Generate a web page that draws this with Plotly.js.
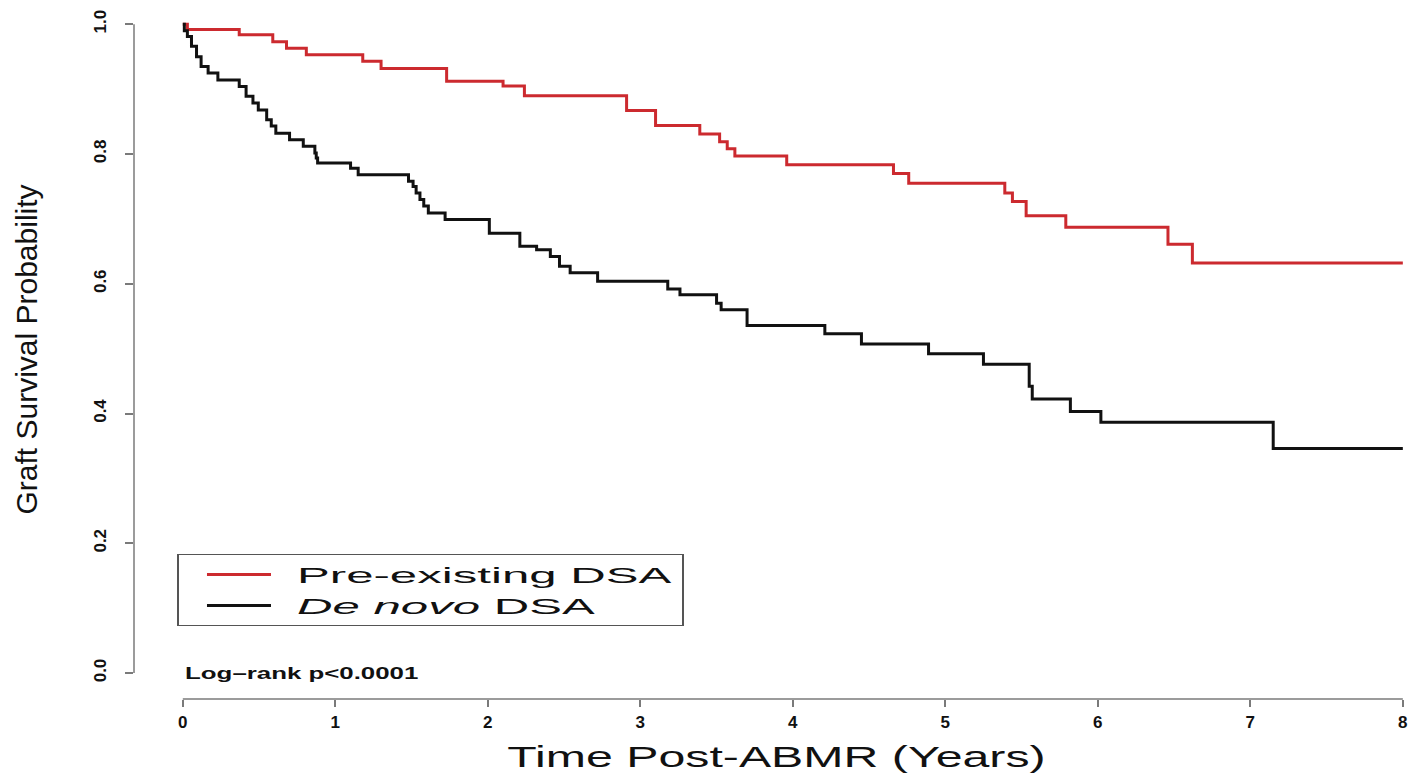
<!DOCTYPE html>
<html>
<head>
<meta charset="utf-8">
<script src="https://cdn.plot.ly/plotly-3.0.1.min.js"></script>
<style>
  html, body { margin: 0; padding: 0; background: #ffffff; }
  #chart { width: 1419px; height: 774px; }
</style>
</head>
<body>
<div id="chart"></div>
<script>
// ---- data ----
const seriesNames = ['Pre-existing DSA', '<i>De novo</i> DSA'];

const preTimes = [0, 0.03, 0.37, 0.59, 0.68, 0.81, 1.18, 1.30, 1.73, 2.10, 2.24, 2.91, 3.10, 3.39,
                  3.52, 3.57, 3.62, 3.96, 4.66, 4.76, 5.39, 5.44, 5.53, 5.79, 6.46, 6.62, 8.0];
const preSurv  = [1.0, 0.992, 0.984, 0.973, 0.963, 0.953, 0.943, 0.932, 0.912, 0.905, 0.890, 0.867, 0.844, 0.831,
                  0.819, 0.808, 0.797, 0.7835, 0.770, 0.755, 0.740, 0.727, 0.705, 0.687, 0.661, 0.632, 0.632];

const deNovoTimes = [0, 0.01, 0.03, 0.057, 0.09, 0.12, 0.166, 0.23, 0.37, 0.415, 0.46, 0.495, 0.55, 0.58, 0.61,
                     0.70, 0.79, 0.866, 0.875, 0.884, 1.10, 1.15, 1.48, 1.51, 1.53, 1.555, 1.58, 1.61, 1.72,
                     2.01, 2.21, 2.32, 2.41, 2.47, 2.54, 2.72, 3.18, 3.26, 3.50, 3.53, 3.70, 4.21, 4.45, 4.89,
                     5.25, 5.55, 5.57, 5.82, 6.02, 7.15, 8.0];
const deNovoSurv  = [1.0, 0.99, 0.981, 0.966, 0.950, 0.935, 0.925, 0.914, 0.904, 0.889, 0.8785, 0.868, 0.853, 0.843, 0.832,
                     0.822, 0.812, 0.8015, 0.794, 0.786, 0.778, 0.768, 0.758, 0.750, 0.740, 0.730, 0.720, 0.709, 0.699,
                     0.678, 0.658, 0.6525, 0.642, 0.627, 0.617, 0.604, 0.592, 0.583, 0.570, 0.560, 0.5355, 0.523, 0.507, 0.492,
                     0.476, 0.442, 0.4225, 0.403, 0.3865, 0.346, 0.346];

const xTickVals = [0, 1, 2, 3, 4, 5, 6, 7, 8];
const yTickVals = [0, 0.2, 0.4, 0.6, 0.8, 1.0];
const xTitle = 'Time Post-ABMR (Years)';
const yTitle = 'Graft Survival Probability';
const pValueText = 'Log–rank p<0.0001';

// ---- styling ----
const FONT = 'Liberation Sans, Arial, Helvetica, sans-serif';
const RED = '#cc2a2f';
const BLACK = '#111111';
const AXIS_GREY = '#7a7a7a';

const traces = [
  { x: preTimes, y: preSurv, name: seriesNames[0], type: 'scatter', mode: 'lines',
    line: { shape: 'hv', color: RED, width: 3 } },
  { x: deNovoTimes, y: deNovoSurv, name: seriesNames[1], type: 'scatter', mode: 'lines',
    line: { shape: 'hv', color: BLACK, width: 3 } }
];

const layout = {
  width: 1419, height: 774,
  margin: { l: 134, r: 0, t: 0, b: 75, pad: 0 },
  paper_bgcolor: '#ffffff', plot_bgcolor: '#ffffff',
  showlegend: true,
  legend: {
    x: 0.0332, y: 0.2074, xanchor: 'left', yanchor: 'top',
    bgcolor: 'rgba(0,0,0,0)', bordercolor: '#555555', borderwidth: 1.5,
    font: { family: FONT, size: 28, color: '#111111' },
    itemwidth: 57, traceorder: 'normal'
  },
  xaxis: {
    range: [-0.32, 8.106], tickvals: xTickVals, ticks: 'outside', ticklen: 7, tickwidth: 1.5,
    tickcolor: AXIS_GREY, showline: false, showgrid: false, zeroline: false, automargin: false,
    tickfont: { family: FONT, size: 17, color: '#111111', weight: 'bold' }, ticklabelstandoff: 1,
    title: { text: xTitle, font: { family: FONT, size: 30, color: '#111111' }, standoff: 14 },
    fixedrange: true
  },
  yaxis: {
    range: [-0.04, 1.0374], tickvals: yTickVals, tickformat: '.1f', tickangle: -90,
    ticks: 'outside', ticklen: 8, tickwidth: 1.5, tickcolor: AXIS_GREY,
    showline: false, showgrid: false, zeroline: false, automargin: false,
    tickfont: { family: FONT, size: 17, color: '#111111', weight: 'bold' }, ticklabelstandoff: 12,
    title: { text: yTitle, font: { family: FONT, size: 30, color: '#111111' }, standoff: 44 },
    fixedrange: true
  },
  shapes: [
    { type: 'line', xref: 'paper', yref: 'y', x0: 0, x1: 0,
      y0: yTickVals[0], y1: yTickVals[yTickVals.length - 1],
      line: { color: AXIS_GREY, width: 1.5 } },
    { type: 'line', xref: 'x', yref: 'paper', y0: 0, y1: 0,
      x0: xTickVals[0], x1: xTickVals[xTickVals.length - 1],
      line: { color: AXIS_GREY, width: 1.5 } }
  ],
  annotations: [
    { xref: 'x', yref: 'y', x: xTickVals[0], y: yTickVals[0], text: pValueText, showarrow: false,
      xanchor: 'left', yanchor: 'middle',
      font: { family: FONT, size: 17, color: '#111111', weight: 'bold' } }
  ]
};

// The reference renders its horizontal texts wide; widen them to match.
const XTITLE_STRETCH = 1.61;
const NOTE_STRETCH = 1.52;
const LEGEND_BOX_W = 505;
const LEGEND_BOX_H = 71;
const LEGEND_SAMPLE_FROM = 90;   // px (scaled) before the text start
const LEGEND_SAMPLE_TO = 26;

function stretchX(el, s, anchor) {
  if (!el) return;
  const bb = el.getBBox();
  const ax = anchor === 'left' ? bb.x : bb.x + bb.width / 2;
  const prev = el.getAttribute('transform') || '';
  el.setAttribute('transform', prev + ' translate(' + ax + ',0) scale(' + s + ',1) translate(' + (-ax) + ',0)');
}

Plotly.newPlot('chart', traces, layout, { displayModeBar: false, responsive: false }).then(function (gd) {
  stretchX(gd.querySelector('.xtitle'), XTITLE_STRETCH, 'middle');
  stretchX(gd.querySelector('.annotation-text'), NOTE_STRETCH, 'left');

  const leg = gd.querySelector('g.legend');
  const bg = leg && leg.querySelector('.bg');
  if (leg && bg) {
    const bb = bg.getBBox();
    const sx = LEGEND_BOX_W / bb.width;
    const sy = LEGEND_BOX_H / bb.height;
    leg.setAttribute('transform', (leg.getAttribute('transform') || '') + ' scale(' + sx + ',' + sy + ')');
    bg.style.vectorEffect = 'non-scaling-stroke';
    leg.querySelectorAll('g.traces').forEach(function (tg) {
      const txt = tg.querySelector('.legendtext');
      const p = tg.querySelector('.legendlines path');
      if (!txt || !p) return;
      const tx0 = txt.getBBox().x;
      const pb = p.getBBox();
      if (!pb.width) return;
      const t0 = tx0 - LEGEND_SAMPLE_FROM / sx;
      const t1 = tx0 - LEGEND_SAMPLE_TO / sx;
      const k = (t1 - t0) / pb.width;
      const off = t0 - k * pb.x;
      p.style.vectorEffect = 'non-scaling-stroke';
      p.setAttribute('transform', 'translate(' + off + ',0) scale(' + k + ',1)');
    });
  }
});
</script>
</body>
</html>
